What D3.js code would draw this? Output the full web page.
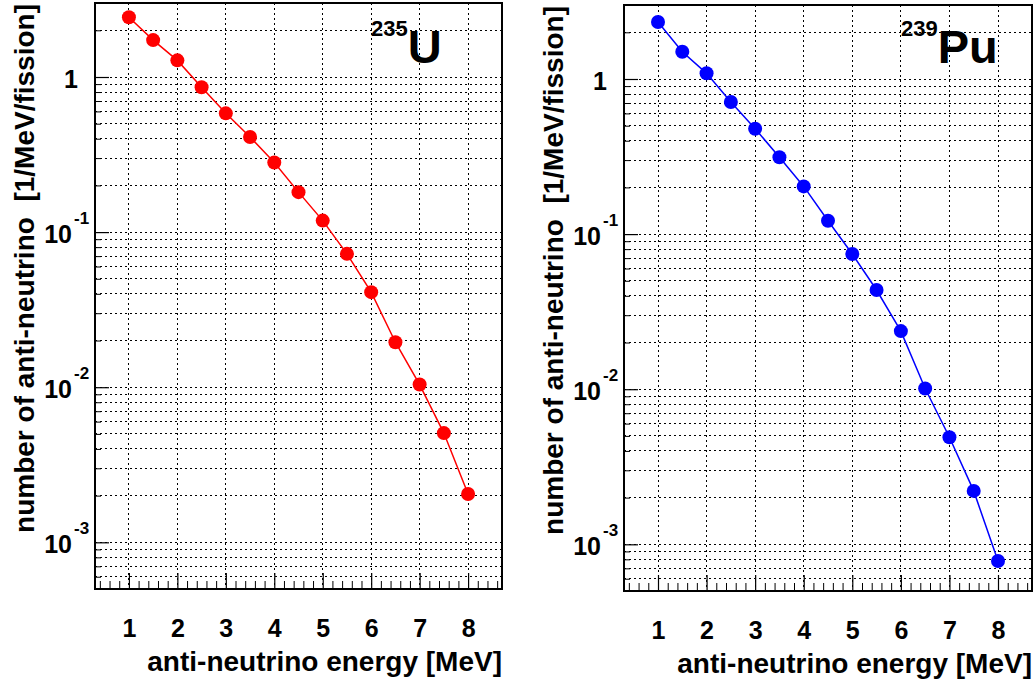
<!DOCTYPE html>
<html>
<head>
<meta charset="utf-8">
<script src="https://cdn.jsdelivr.net/npm/d3@7"></script>
<style>
  body { margin: 0; background: #fff; }
  svg { display: block; font-family: "Liberation Sans", Arial, Helvetica, sans-serif; font-weight: bold; }
</style>
</head>
<body>
<div id="chart"></div>
<script>
// anti-neutrino energy [MeV]
const energy = [1, 1.5, 2, 2.5, 3, 3.5, 4, 4.5, 5, 5.5, 6, 6.5, 7, 7.5, 8];
// number of anti-neutrino per MeV per fission
const u235 = [2.43, 1.73, 1.28, 0.858, 0.583, 0.41, 0.281, 0.181, 0.1186, 0.0724, 0.041, 0.0195, 0.0104, 0.00506, 0.00205];
const pu239 = [2.33, 1.50, 1.088, 0.711, 0.478, 0.313, 0.203, 0.122, 0.0744, 0.0436, 0.0237, 0.0101, 0.0049, 0.00221, 0.00078];

const xTicks = [1, 2, 3, 4, 5, 6, 7, 8];
const yDecades = [1, 0.1, 0.01, 0.001];
const yDecadeExp = ["", "-1", "-2", "-3"];

const xDomain = [0.3, 8.7];
const yDomain = [5e-4, 3];

const W = 1034, H = 681;
const svg = d3.select("#chart").append("svg").attr("width", W).attr("height", H);

function drawPanel(o) {
    const x = d3.scaleLinear().domain(xDomain).range([o.left, o.right]);
    const y = d3.scaleLog().domain(yDomain).range([o.bottom, o.top]);
    const g = svg.append("g");

    // minor y values 2..9 x decade
    const yMinor = [];
    [1e-4, 1e-3, 1e-2, 1e-1, 1].forEach(d => {
        for (let k = 2; k <= 9; k++) {
            const v = d * k;
            if (v > yDomain[0] && v < yDomain[1]) yMinor.push(v);
        }
    });
    const yAll = yDecades.concat(yMinor);
    const xMinor = d3.range(4, 87, 2).map(v => v / 10).filter(v => Math.abs(v - Math.round(v)) > 1e-6);

    // grid
    const grid = g.append("g").attr("shape-rendering", "crispEdges");
    grid.selectAll("line.gy").data(yAll).enter().append("line")
        .attr("x1", o.left).attr("x2", o.right)
        .attr("y1", d => y(d)).attr("y2", d => y(d))
        .attr("stroke", "#000").attr("stroke-width", 1).attr("stroke-dasharray", "2,3");
    grid.selectAll("line.gx").data(xTicks).enter().append("line")
        .attr("x1", d => x(d)).attr("x2", d => x(d))
        .attr("y1", o.top).attr("y2", o.bottom)
        .attr("stroke", "#000").attr("stroke-width", 1).attr("stroke-dasharray", "2,3");

    // x axis: major ticks + labels
    const xAxis = g.append("g")
        .attr("transform", `translate(0,${o.bottom})`)
        .call(d3.axisBottom(x).tickValues(xTicks).tickSize(-16).tickPadding(30).tickFormat(d3.format("d")));
    xAxis.select(".domain").remove();
    xAxis.selectAll("line").attr("stroke", "#000").attr("stroke-width", 1.2);
    xAxis.selectAll("text").attr("font-size", 25).attr("fill", "#000")
        .attr("font-family", "'Liberation Sans', Arial, sans-serif").attr("font-weight", "bold");

    const xMinorAxis = g.append("g")
        .attr("transform", `translate(0,${o.bottom})`)
        .call(d3.axisBottom(x).tickValues(xMinor).tickSize(-8).tickFormat(""));
    xMinorAxis.select(".domain").remove();
    xMinorAxis.selectAll("line").attr("stroke", "#000").attr("stroke-width", 1);

    // y axis ticks
    const yAxis = g.append("g")
        .attr("transform", `translate(${o.left},0)`)
        .call(d3.axisLeft(y).tickValues(yDecades).tickSize(-14).tickFormat(""));
    yAxis.select(".domain").remove();
    yAxis.selectAll("line").attr("stroke", "#000").attr("stroke-width", 1.2);
    const yMinorAxis = g.append("g")
        .attr("transform", `translate(${o.left},0)`)
        .call(d3.axisLeft(y).tickValues(yMinor).tickSize(-6).tickFormat(""));
    yMinorAxis.select(".domain").remove();
    yMinorAxis.selectAll("line").attr("stroke", "#000").attr("stroke-width", 1);

    // y labels
    yDecades.forEach((d, i) => {
        const ty = y(d);
        if (yDecadeExp[i] === "") {
            g.append("text").attr("x", o.left - 17).attr("y", ty + 11)
                .attr("text-anchor", "end").attr("font-size", 25).text("1");
        } else {
            g.append("text").attr("x", o.left - 23).attr("y", ty + 11)
                .attr("text-anchor", "end").attr("font-size", 25).text("10");
            g.append("text").attr("x", o.left - 21).attr("y", ty - 8)
                .attr("text-anchor", "start").attr("font-size", 17).text(yDecadeExp[i]);
        }
    });

    // frame
    g.append("rect")
        .attr("x", o.left).attr("y", o.top)
        .attr("width", o.right - o.left).attr("height", o.bottom - o.top)
        .attr("fill", "none").attr("stroke", "#000").attr("stroke-width", 2);

    // data line and markers
    const pts = energy.map((e, i) => [e, o.values[i]]);
    const line = d3.line().x(d => x(d[0])).y(d => y(d[1]));
    g.append("path").datum(pts)
        .attr("d", line).attr("fill", "none")
        .attr("stroke", o.color).attr("stroke-width", 1.5);
    g.append("g").selectAll("circle").data(pts).enter().append("circle")
        .attr("cx", d => x(d[0])).attr("cy", d => y(d[1]))
        .attr("r", 7).attr("fill", o.color);

    // axis titles
    g.append("text")
        .attr("x", o.right).attr("y", o.xTitleY)
        .attr("text-anchor", "end").attr("font-size", 28)
        .text("anti-neutrino energy [MeV]");
    g.append("text")
        .attr("transform", `translate(${o.yTitleX},${o.top + 1}) rotate(-90)`)
        .attr("text-anchor", "end").attr("font-size", 28)
        .attr("xml:space", "preserve")
        .text("number of anti-neutrino  [1/MeV/fission]");

    // isotope label
    const lab = g.append("text").attr("x", o.labelX).attr("y", 63).attr("text-anchor", "start");
    lab.append("tspan").attr("font-size", 22).attr("dy", -27).text(o.mass);
    lab.append("tspan").attr("font-size", 47).attr("dy", 27).text(o.element);
}

drawPanel({ left: 95, right: 502, top: 3, bottom: 589, values: u235, color: "#ff0000",
    xTitleY: 671, yTitleX: 34, labelX: 371, mass: "235", element: "U" });
drawPanel({ left: 624, right: 1032, top: 5, bottom: 591, values: pu239, color: "#0000ff",
    xTitleY: 673, yTitleX: 563, labelX: 901, mass: "239", element: "Pu" });
</script>
</body>
</html>
